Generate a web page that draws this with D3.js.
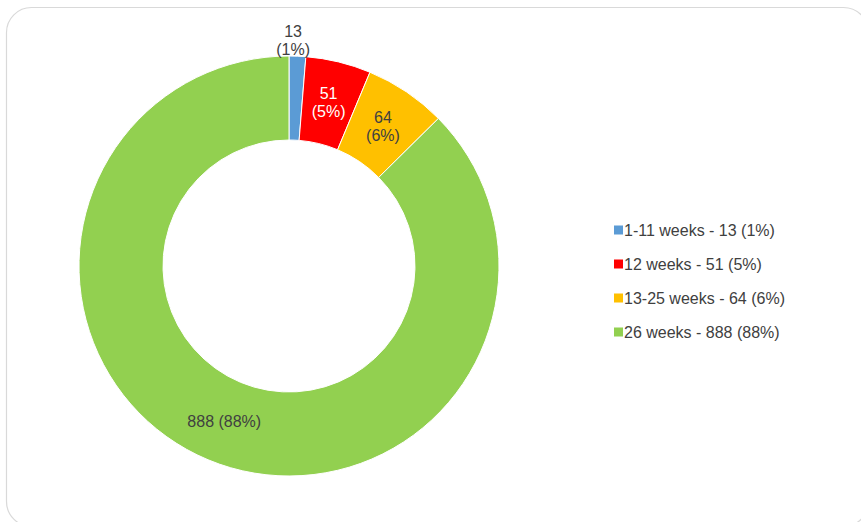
<!DOCTYPE html>
<html><head><meta charset="utf-8">
<script src="https://cdn.jsdelivr.net/npm/d3@7"></script>
<style>body{margin:0;background:#fff}svg{display:block}</style>
</head><body>
<svg id="c" width="861" height="522"></svg>
<script>
const categories = ["1-11 weeks", "12 weeks", "13-25 weeks", "26 weeks"];
const values = [13, 51, 64, 888];
const percentLabels = ["1%", "5%", "6%", "88%"];
const colors = ["#5B9BD5", "#FF0000", "#FFC000", "#92D050"];
const labelColors = ["#404040", "#FFFFFF", "#404040", "#404040"];

const svg = d3.select("#c");
svg.append("rect").attr("x", 6.5).attr("y", 7.5).attr("width", 862).attr("height", 519)
  .attr("rx", 25).attr("fill", "#fff").attr("stroke", "#D9D9D9").attr("stroke-width", 1.2);

const cx = 289, cy = 266, rOut = 210, rIn = 126;
const pie = d3.pie().sort(null).value(d => d)(values);
const arc = d3.arc().innerRadius(rIn).outerRadius(rOut);
const g = svg.append("g").attr("transform", `translate(${cx},${cy})`);
g.selectAll("path").data(pie).join("path").attr("d", arc)
  .attr("fill", (d, i) => colors[i]).attr("stroke", "#fff").attr("stroke-width", 1);

const font = "Liberation Sans, Arial, sans-serif";
const labArc = d3.arc().innerRadius(168).outerRadius(168);
const outArc = d3.arc().innerRadius(226).outerRadius(226);
pie.forEach((d, i) => {
  const small = i === 0;
  let [x, y] = small ? outArc.centroid(d) : labArc.centroid(d);
  if (small) x -= 5;
  if (i === 3) {
    g.append("text").attr("x", x).attr("y", y).attr("dy", "0.35em").attr("text-anchor", "middle")
      .attr("font-family", font).attr("font-size", 16).attr("fill", labelColors[i])
      .text(`${values[i]} (${percentLabels[i]})`);
  } else {
    const t = g.append("text").attr("text-anchor", "middle").attr("font-family", font)
      .attr("font-size", 16).attr("fill", labelColors[i]);
    t.append("tspan").attr("x", x).attr("y", y - 9).attr("dy", "0.35em").text(values[i]);
    t.append("tspan").attr("x", x).attr("y", y + 9).attr("dy", "0.35em").text(`(${percentLabels[i]})`);
  }
});

const leg = svg.append("g");
const ly = d3.scalePoint().domain(categories).range([230, 332]);
categories.forEach((c, i) => {
  leg.append("rect").attr("x", 614).attr("y", ly(c) - 4.5).attr("width", 9).attr("height", 9).attr("fill", colors[i]);
  leg.append("text").attr("x", 624).attr("y", ly(c)).attr("dy", "0.35em")
    .attr("font-family", font).attr("font-size", 16).attr("fill", "#404040")
    .text(`${c} - ${values[i]} (${percentLabels[i]})`);
});
</script>
</body></html>
